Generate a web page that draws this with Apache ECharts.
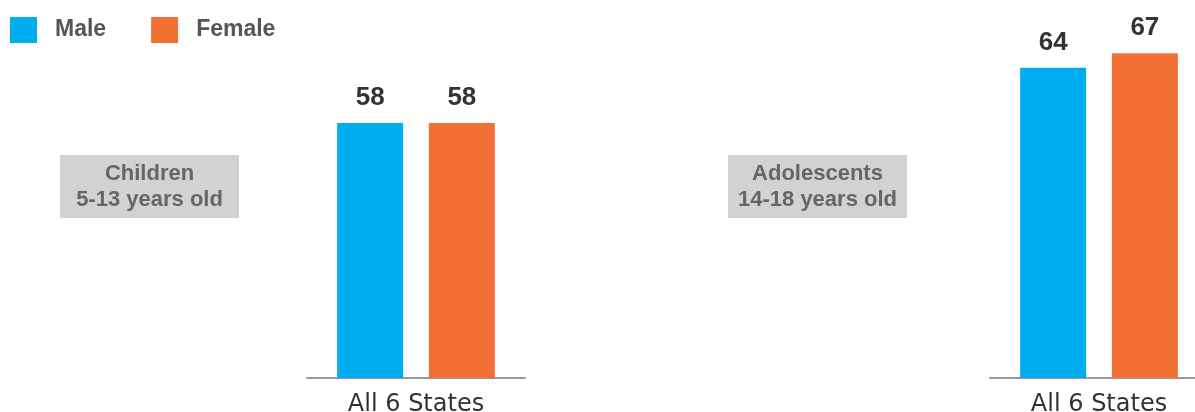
<!DOCTYPE html>
<html>
<head>
<meta charset="utf-8">
<script src="https://cdn.jsdelivr.net/npm/echarts@6/dist/echarts.min.js"></script>
<style>html,body{margin:0;padding:0;background:#fff}#c{width:1195px;height:412px}</style>
</head>
<body>
<div id="c"></div>
<script>
const categories = ['All 6 States'];
const seriesNames = ['Male', 'Female'];
const childrenMale = [58];
const childrenFemale = [58];
const adolescentMale = [64];
const adolescentFemale = [67];
const panelLabels = ['Children\n5-13 years old', 'Adolescents\n14-18 years old'];

const colors = {Male: '#00aeef', Female: '#f37035'};
const chart = echarts.init(document.getElementById('c'));

function barSeries(name, data, idx) {
  return {
    name: name, type: 'bar', xAxisIndex: idx, yAxisIndex: idx, data: data,
    barWidth: 66, barGap: '39%',
    itemStyle: {color: colors[name]},
    label: {show: true, position: 'top', distance: 12, color: '#333',
      fontFamily: 'Liberation Sans', fontWeight: 'bold', fontSize: 26},
    emphasis: {disabled: true}
  };
}
const xAxisCommon = {
  type: 'category', data: categories,
  axisLine: {lineStyle: {color: '#999', width: 2}},
  axisTick: {show: false},
  axisLabel: {color: '#333', fontFamily: 'DejaVu Sans', fontSize: 24, margin: 15}
};
function boxGraphic(x, text) {
  return {
    type: 'group', left: x, top: 155,
    children: [
      {type: 'rect', shape: {x: 0, y: 0, width: 179, height: 63}, style: {fill: '#d1d2d4'}},
      {type: 'text', x: 89.5, y: 32, style: {text: text, textAlign: 'center', textVerticalAlign: 'middle',
        fill: '#666', font: 'bold 22px "Liberation Sans"', lineHeight: 26}}
    ]
  };
}
chart.setOption({
  animation: false,
  legend: {
    left: 10, top: 17, padding: 0, itemWidth: 27, itemHeight: 26, itemGap: 45,
    data: seriesNames, icon: 'rect',
    textStyle: {color: '#555', fontFamily: 'Liberation Sans', fontWeight: 'bold', fontSize: 23, padding: [0, 0, 0, 13]}
  },
  grid: [
    {left: 307, width: 218, top: 0, bottom: 34, outerBoundsMode: 'none'},
    {left: 990, width: 218, top: 0, bottom: 34, outerBoundsMode: 'none'}
  ],
  xAxis: [Object.assign({gridIndex: 0}, xAxisCommon), Object.assign({gridIndex: 1}, xAxisCommon)],
  yAxis: [
    {gridIndex: 0, type: 'value', min: 0, max: 86, show: false},
    {gridIndex: 1, type: 'value', min: 0, max: 78, show: false}
  ],
  series: [
    barSeries('Male', childrenMale, 0),
    barSeries('Female', childrenFemale, 0),
    barSeries('Male', adolescentMale, 1),
    barSeries('Female', adolescentFemale, 1)
  ],
  graphic: [boxGraphic(60, panelLabels[0]), boxGraphic(728, panelLabels[1])]
});
</script>
</body>
</html>
